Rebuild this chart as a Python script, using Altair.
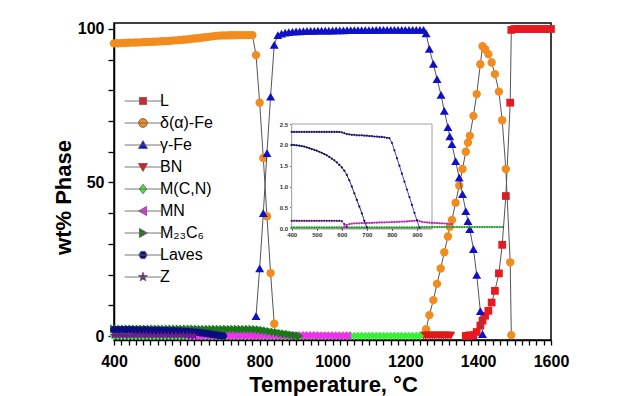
import altair as alt
import pandas as pd

# ------------------------------------------------------------------ data
NAMES = ["L", "δ(α)-Fe", "γ-Fe", "BN", "M(C,N)", "MN", "M₂₃C₆", "Laves", "Z"]
COLORS = ["#e8191f", "#f28c1e", "#1010c8", "#e01818", "#38f038",
          "#f030f0", "#187818", "#0c0c80", "#6c1c8c"]

# delta(alpha)-Fe, low temperature plateau (400..780 step 10)
DELTA_LOW = [95.3, 95.35, 95.4, 95.45, 95.5, 95.55, 95.6, 95.65, 95.7, 95.75,
             95.8, 95.85, 95.9, 96.0, 96.05, 96.1, 96.2, 96.3, 96.4, 96.5,
             96.6, 96.75, 96.9, 97.0, 97.15, 97.3, 97.45, 97.6, 97.75, 97.85,
             97.9, 97.9, 97.95, 97.95, 98.0, 98.0, 98.0, 98.0, 98.0]
T_DELTA_TRANS = [790, 800, 810, 820, 830, 840]
DELTA_TRANS = [91.5, 76.0, 58.0, 39.0, 20.5, 4.0]
T_DELTA_HIGH = [1257, 1266, 1277, 1287, 1297, 1307, 1317, 1322, 1328, 1338,
                1348, 1357, 1366, 1372, 1377, 1387, 1396, 1406, 1412, 1419,
                1428, 1437, 1446, 1457, 1466, 1476, 1488, 1491]
DELTA_HIGH = [2.2, 6.8, 11.7, 17.0, 22.0, 27.3, 32.4, 35.6, 37.8, 43.4,
              49.0, 54.4, 60.0, 63.0, 65.2, 71.7, 78.8, 88.5, 94.4, 93.4,
              91.8, 89.1, 85.3, 79.6, 70.3, 54.4, 24.0, 0.3]

# gamma-Fe
T_GAMMA_TRANS = [790, 800, 810, 820, 830, 840, 850]
GAMMA_TRANS = [6.5, 22.0, 40.0, 59.6, 78.0, 94.8, 98.0]
GAMMA_PLATEAU = [98.5, 98.8, 99.0, 99.1, 99.2, 99.25, 99.3, 99.35, 99.4, 99.4,
                 99.45, 99.45, 99.5, 99.5, 99.5, 99.55, 99.55, 99.55, 99.6, 99.6,
                 99.6, 99.6, 99.65, 99.65, 99.65, 99.65, 99.7, 99.7, 99.7, 99.7,
                 99.7, 99.7, 99.7, 99.7, 99.7, 99.7, 99.7, 99.7, 99.7, 99.7]  # 860.. step 10
T_GAMMA_HIGH = [1257, 1266, 1277, 1287, 1298, 1307, 1317, 1322, 1328, 1338,
                1348, 1357, 1366, 1372, 1377, 1387, 1396, 1406, 1412]
GAMMA_HIGH = [98.6, 93.5, 88.6, 83.7, 78.5, 73.3, 68.0, 65.0, 62.5, 57.0,
              51.6, 46.2, 40.7, 37.4, 34.8, 28.3, 19.9, 8.1, 0.6]

# liquid
T_L = [1366, 1372, 1377, 1387, 1396, 1406, 1412, 1419, 1428, 1437, 1446,
       1457, 1466, 1476, 1488, 1491, 1500, 1510, 1520, 1530, 1540, 1550,
       1560, 1570, 1580, 1590, 1600]
L_VALS = [0.0, 0.1, 0.2, 0.3, 1.3, 3.4, 5.0, 6.6, 8.2, 10.9, 14.7,
          20.4, 29.7, 45.6, 76.0, 99.7, 100.0, 100.0, 100.0, 100.0, 100.0, 100.0,
          100.0, 100.0, 100.0, 100.0, 100.0]

# BN (1250.. step 5)
BN_VALS = [0.1, 0.1, 0.1, 0.1, 0.1, 0.1, 0.1, 0.1,
           0.1, 0.1, 0.1, 0.1, 0.1, 0.1, 0.1, 0.1]

# M(C,N) (400.. step 10)
MCN_VALS = [0.02, 0.02, 0.02, 0.02, 0.02, 0.02, 0.02, 0.02, 0.02, 0.02,
            0.02, 0.02, 0.02, 0.02, 0.02, 0.02, 0.02, 0.02, 0.02, 0.02,
            0.02, 0.02, 0.02, 0.02, 0.02, 0.02, 0.02, 0.02, 0.02, 0.02,
            0.02, 0.02, 0.02, 0.02, 0.02, 0.02, 0.02, 0.02, 0.02, 0.02,
            0.02, 0.02, 0.02, 0.02, 0.02, 0.02, 0.02, 0.02, 0.02, 0.02,
            0.02, 0.03, 0.03, 0.03, 0.03, 0.03, 0.03, 0.03, 0.03, 0.03,
            0.03, 0.03, 0.03, 0.03, 0.03, 0.03, 0.03, 0.03, 0.03, 0.03,
            0.03, 0.03, 0.03, 0.03, 0.03, 0.03, 0.03, 0.03, 0.03, 0.03,
            0.03, 0.03, 0.03, 0.03, 0.03]

# MN (600.. step 10)
MN_VALS = [0.0, 0.04, 0.08, 0.10, 0.11, 0.12, 0.12, 0.12, 0.125, 0.125,
           0.13, 0.13, 0.13, 0.135, 0.135, 0.14, 0.14, 0.14, 0.145, 0.145,
           0.15, 0.15, 0.155, 0.155, 0.16, 0.16, 0.165, 0.17, 0.175, 0.18,
           0.19, 0.17, 0.155, 0.145, 0.14, 0.135, 0.13, 0.13, 0.125, 0.12,
           0.12, 0.115, 0.11, 0.10, 0.10]

# M23C6 (400.. step 10)
M23_VALS = [2.31, 2.31, 2.31, 2.31, 2.31, 2.31, 2.31, 2.31, 2.31, 2.31,
            2.31, 2.31, 2.31, 2.31, 2.31, 2.31, 2.31, 2.31, 2.31, 2.31,
            2.30, 2.28, 2.26, 2.25, 2.24, 2.24, 2.23, 2.23, 2.23, 2.22,
            2.22, 2.21, 2.21, 2.20, 2.20, 2.19, 2.19, 2.18, 2.17, 2.16,
            2.05, 1.87, 1.68, 1.50, 1.31, 1.12, 0.93, 0.75, 0.56, 0.37,
            0.19, 0.01]

# Laves (400.. step 10)
LAVES_VALS = [2.00, 1.995, 1.99, 1.98, 1.97, 1.96, 1.94, 1.92, 1.90, 1.88,
              1.86, 1.835, 1.81, 1.78, 1.75, 1.71, 1.67, 1.63, 1.58, 1.52,
              1.46, 1.38, 1.28, 1.15, 1.00, 0.84, 0.68, 0.52, 0.36, 0.18,
              0.02]

# Z (400.. step 10)
Z_VALS = [0.18, 0.18, 0.18, 0.18, 0.18, 0.18, 0.18, 0.18, 0.18, 0.18,
          0.18, 0.18, 0.18, 0.18, 0.18, 0.18, 0.18, 0.18, 0.18, 0.18,
          0.17, 0.10, 0.03]

X_TICKS = list(range(400, 1601, 20))      # labelled every 200
Y_TICKS = list(range(0, 101, 10))         # labelled every 50
INSET_X_TICKS = [400, 500, 600, 700, 800, 900]
INSET_Y_TICKS = [0.0, 0.5, 1.0, 1.5, 2.0, 2.5]


def grid(start, step, vals):
    return [start + step * i for i in range(len(vals))]


def frame(*segments):
    rows = []
    for k, (ts, vs) in enumerate(segments):
        for t, v in zip(ts, vs):
            rows.append({"T": t, "v": v, "seg": k})
    return pd.DataFrame(rows)


SERIES = {
    "L": frame((T_L, L_VALS)),
    "δ(α)-Fe": frame((grid(400, 10, DELTA_LOW) + T_DELTA_TRANS, DELTA_LOW + DELTA_TRANS),
                     (T_DELTA_HIGH, DELTA_HIGH)),
    "γ-Fe": frame((T_GAMMA_TRANS + grid(860, 10, GAMMA_PLATEAU) + T_GAMMA_HIGH,
                   GAMMA_TRANS + GAMMA_PLATEAU + GAMMA_HIGH)),
    "BN": frame((grid(1250, 5, BN_VALS), BN_VALS)),
    "M(C,N)": frame((grid(400, 10, MCN_VALS), MCN_VALS)),
    "MN": frame((grid(600, 10, MN_VALS), MN_VALS)),
    "M₂₃C₆": frame((grid(400, 10, M23_VALS), M23_VALS)),
    "Laves": frame((grid(400, 10, LAVES_VALS), LAVES_VALS)),
    "Z": frame((grid(400, 10, Z_VALS), Z_VALS)),
}

# ------------------------------------------------------------------ styles
HEX = "M1,0L0.5,0.866L-0.5,0.866L-1,0L-0.5,-0.866L0.5,-0.866Z"
STAR = ("M0,-1L0.235,-0.324L0.951,-0.309L0.38,0.124L0.588,0.809L0,0.4"
        "L-0.588,0.809L-0.38,0.124L-0.951,-0.309L-0.235,-0.324Z")
SHAPES = ["square", "circle", "triangle-up", "triangle-down", "diamond",
          "triangle-left", "triangle-right", HEX, STAR]
SIZES = [60, 70, 80, 80, 70, 80, 80, 70, 80]

LINE = "M-4.6,0H4.6"
LEG_PATHS = [
    LINE + "M-0.9,-0.9H0.9V0.9H-0.9Z",
    LINE + "M-1.1,0A1.1,1.1,0,1,0,1.1,0A1.1,1.1,0,1,0,-1.1,0Z",
    LINE + "M0,-1.1L1.15,0.9L-1.15,0.9Z",
    LINE + "M0,1.1L1.15,-0.9L-1.15,-0.9Z",
    LINE + "M0,-1.2L0.9,0L0,1.2L-0.9,0Z",
    LINE + "M-1.1,0L0.9,-1.15L0.9,1.15Z",
    LINE + "M1.1,0L-0.9,-1.15L-0.9,1.15Z",
    LINE + "M1.05,0L0.52,0.91L-0.52,0.91L-1.05,0L-0.52,-0.91L0.52,-0.91Z",
    LINE + "M0,-1.2L0.28,-0.39L1.14,-0.37L0.46,0.15L0.71,0.97L0,0.48"
           "L-0.71,0.97L-0.46,0.15L-1.14,-0.37L-0.28,-0.39Z",
]
LEG_STROKES = ["#666666"] * len(NAMES)

FONT = "Liberation Sans"
XS = alt.Scale(domain=[400, 1600], nice=False, zero=False)
YS = alt.Scale(domain=[-1.3, 101.95], nice=False, zero=False)

# ------------------------------------------------------------------ main panel
layers = []
for name, color, shape, size in zip(NAMES, COLORS, SHAPES, SIZES):
    df = SERIES[name]
    layers.append(
        alt.Chart(df).mark_line(color="#555555", strokeWidth=1).encode(
            x=alt.X("T:Q", scale=XS, axis=None),
            y=alt.Y("v:Q", scale=YS, axis=None),
            detail="seg:N",
        )
    )
    layers.append(
        alt.Chart(df).mark_point(filled=True, shape=shape, size=size, color=color,
                                 opacity=1, strokeWidth=0).encode(
            x=alt.X("T:Q", scale=XS, axis=None),
            y=alt.Y("v:Q", scale=YS, axis=None),
        )
    )

axis_df = pd.DataFrame({"T": [400], "v": [0]})
main_axes = alt.Chart(axis_df).mark_point(opacity=0).encode(
    x=alt.X("T:Q", scale=XS, axis=alt.Axis(
        orient="bottom", values=X_TICKS, format="d", grid=False, labelFlush=False,
        labelExpr="datum.value % 200 === 0 ? datum.label : ''",
        labelFont=FONT, labelFontSize=16, labelFontWeight="bold", labelColor="black",
        labelPadding=8, tickSize=5, tickWidth=1.3, tickColor="black",
        domainColor="black", domainWidth=1.5,
        title="Temperature, °C", titleFont=FONT, titleFontSize=22,
        titleFontWeight="bold", titleColor="black",
        titleBaseline="alphabetic", titleX=219, titleY=51)),
    y=alt.Y("v:Q", scale=YS, axis=alt.Axis(
        orient="left", values=Y_TICKS, format="d", grid=False, labelFlush=False,
        labelExpr="datum.value % 50 === 0 ? datum.label : ''",
        labelFont=FONT, labelFontSize=16, labelFontWeight="bold", labelColor="black",
        labelPadding=4, tickSize=6, tickWidth=1.3, tickColor="black",
        domainColor="black", domainWidth=1.5,
        title="wt% Phase", titleFont=FONT, titleFontSize=22,
        titleFontWeight="bold", titleColor="black",
        titleBaseline="alphabetic", titleX=-44, titleY=174, titleAngle=270)),
)

LEG = alt.Legend(orient="none", legendX=21, legendY=70, labelFont=FONT,
                 labelFontSize=16, labelColor="black", labelOffset=9,
                 rowPadding=6, symbolSize=64, symbolStrokeWidth=0.9,
                 symbolOpacity=1, padding=0, labelLimit=300)
legend_layer = alt.Chart(pd.DataFrame({"phase": NAMES})).mark_point(
    filled=True, size=64, opacity=1, strokeWidth=0.9
).encode(
    color=alt.Color("phase:N", scale=alt.Scale(domain=NAMES, range=COLORS),
                    legend=LEG, title=None),
    shape=alt.Shape("phase:N", scale=alt.Scale(domain=NAMES, range=LEG_PATHS),
                    legend=LEG, title=None),
    stroke=alt.Stroke("phase:N", scale=alt.Scale(domain=NAMES, range=LEG_STROKES),
                      legend=LEG, title=None),
).transform_filter("false")

# ------------------------------------------------------------------ inset
IXS = alt.Scale(domain=[400, 960], range=[177.7, 318], nice=False, zero=False)
IYS = alt.Scale(domain=[0, 2.5], range=[205.3, 101], nice=False, zero=False)

inset_box = alt.Chart(pd.DataFrame({"x0": [400], "x1": [960], "y0": [0], "y1": [2.5]})).mark_rect(
    fill="white", stroke="#a0a0a0", strokeWidth=1
).encode(
    x=alt.X("x0:Q", scale=IXS, axis=alt.Axis(
        orient="bottom", offset=-111.7, values=INSET_X_TICKS, format="d", grid=False,
        labelFlush=False,
        labelFont=FONT, labelFontSize=6, labelFontWeight="bold", labelColor="#333333",
        labelPadding=1, tickSize=2, tickColor="#555555", domainColor="#555555",
        title="")),
    x2="x1:Q",
    y=alt.Y("y0:Q", scale=IYS, axis=alt.Axis(
        orient="left", offset=-177.7, values=INSET_Y_TICKS, format=".1f", grid=False,
        labelFlush=False,
        labelFont=FONT, labelFontSize=6, labelFontWeight="bold", labelColor="#333333",
        labelPadding=2, tickSize=2, tickColor="#555555", domainColor="#555555",
        title="")),
    y2="y1:Q",
)

INSET = [("M(C,N)", "#3cdc3c", "#2a9a2a"),
         ("MN", "#ee44ee", "#b030b0"),
         ("Z", "#a050c0", "#4a1a6a"),
         ("Laves", "#2a2a90", "#10104a"),
         ("M₂₃C₆", "#4646d8", "#1a1a60")]
inset_layers = [inset_box]
for name, lc, pc in INSET:
    df = SERIES[name]
    inset_layers.append(
        alt.Chart(df).mark_line(color=lc, strokeWidth=1, clip=True).encode(
            x=alt.X("T:Q", scale=IXS, axis=None), y=alt.Y("v:Q", scale=IYS, axis=None))
    )
    inset_layers.append(
        alt.Chart(df).mark_point(filled=True, size=5, color=pc, opacity=1, clip=True).encode(
            x=alt.X("T:Q", scale=IXS, axis=None), y=alt.Y("v:Q", scale=IYS, axis=None))
    )

chart = alt.layer(*layers, main_axes, legend_layer, *inset_layers).resolve_scale(
    x="independent", y="independent"
).properties(
    width=437, height=317,
    autosize=alt.AutoSizeParams(type="none"),
    padding={"left": 106, "top": 15, "right": 70, "bottom": 58},
    background="white",
).configure_view(stroke="black", strokeWidth=1.5)

chart.save("out.html", embed_options={"renderer": "svg", "actions": False})
